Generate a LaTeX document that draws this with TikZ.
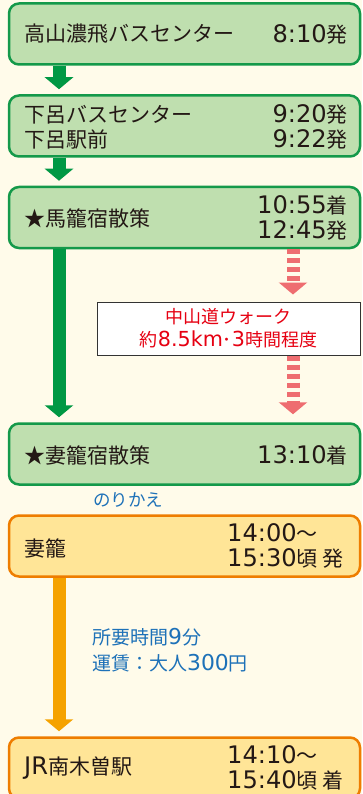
\documentclass[tikz,border=0pt]{standalone}
\usepackage{fontspec}
\newfontfamily\jpfont{Noto Sans CJK JP}
\newfontfamily\numfont{DejaVu Sans}[Scale=1.15]
\newcommand\dgt[1]{{\numfont #1}}
\usetikzlibrary{arrows.meta}
\definecolor{bgcream}{HTML}{FFFBEA}
\definecolor{boxgreen}{HTML}{BFDFAF}
\definecolor{linegreen}{HTML}{14994A}
\definecolor{arrowgreen}{HTML}{009844}
\definecolor{boxorange}{HTML}{FFE597}
\definecolor{lineorange}{HTML}{EE7D00}
\definecolor{arroworange}{HTML}{F5A200}
\definecolor{dashred}{HTML}{EE6D70}
\definecolor{textred}{HTML}{E60012}
\definecolor{textblue}{HTML}{1D71B8}
\definecolor{textdark}{HTML}{231815}

\begin{document}
\begin{tikzpicture}[x=1pt, y=-1pt,
    greenbox/.style={rectangle, rounded corners=10pt, draw=linegreen, line width=2.5pt, fill=boxgreen, minimum width=351pt, minimum height=61pt},
    orangebox/.style={greenbox, draw=lineorange, fill=boxorange},
    walkbox/.style={rectangle, draw=black!80, line width=1pt, fill=white, minimum width=263pt, minimum height=53pt, align=center, text=textred, font=\jpfont\fontsize{18}{23}\selectfont},
    txt/.style={inner sep=0pt, text=textdark, font=\jpfont\fontsize{21}{25}\selectfont},
    bluetxt/.style={inner sep=0pt, text=textblue, align=left, font=\jpfont\fontsize{19}{26}\selectfont},
    garrow/.style={draw=arrowgreen, line width=13pt, -{Triangle[width=28pt,length=12pt]}, shorten >=5pt},
    oarrow/.style={garrow, draw=arroworange},
    rarrow/.style={draw=dashred, line width=13pt, dash pattern=on 5pt off 4pt, -{Triangle[width=28pt,length=12pt]}},
    ]
    \useasboundingbox (0,0) rectangle (362,794);
    \fill[bgcream] (0,0) rectangle (362,794);

    \coordinate (gx) at (59,0);
    \coordinate (rx) at (293,0);

    \node [greenbox] (b1) at (184.5,34) {};
    \node [txt, anchor=west] (t1) at (24,34) {高山濃飛バスセンター};
    \node [txt, anchor=east] (h1) at (348,34) {\dgt{8:10}発};

    \node [greenbox] (b2) at (184.5,126) {};
    \node [txt, anchor=west, align=left] (t2) at (24,127) {下呂バスセンター\\下呂駅前};
    \node [txt, anchor=east, align=right] (h2) at (348,127) {\dgt{9:20}発\\\dgt{9:22}発};

    \node [greenbox] (b3) at (184.5,217.5) {};
    \node [txt, anchor=west] (t3) at (24,218) {★馬籠宿散策};
    \node [txt, anchor=east, align=right] (h3) at (348,218) {\dgt{10:55}着\\\dgt{12:45}発};

    \node [walkbox] (w) at (228.5,328.5) {中山道ウォーク\\約\dgt{8.5km}･\dgt{3}時間程度};

    \node [greenbox] (b4) at (184.5,454) {};
    \node [txt, anchor=west] (t4) at (24,455) {★妻籠宿散策};
    \node [txt, anchor=east] (h4) at (348,455) {\dgt{13:10}着};

    \node [bluetxt, anchor=west, font=\jpfont\fontsize{17.5}{26}\selectfont] (n1) at (93,500) {のりかえ};

    \node [orangebox] (b5) at (184.5,546) {};
    \node [txt, anchor=west] (t5) at (24,548) {妻籠};
    \node [txt, anchor=west, align=left] (h5) at (227,546) {\dgt{14:00}～\\\dgt{15:30}頃 発};

    \node [bluetxt, anchor=west] (n2) at (92,650) {所要時間\dgt{9}分\\運賃：大人\dgt{300}円};

    \node [orangebox] (b6) at (184.5,768) {};
    \node [txt, anchor=west] (t6) at (24,768) {\dgt{JR}南木曽駅};
    \node [txt, anchor=west, align=left] (h6) at (227,768) {\dgt{14:10}～\\\dgt{15:40}頃 着};

    \draw [garrow] (gx |- b1.south) -- (gx |- b2.north);
    \draw [garrow] (gx |- b2.south) -- (gx |- b3.north);
    \draw [garrow] (gx |- b3.south) -- (gx |- b4.north);
    \draw [rarrow, shorten >=7pt] (rx |- b3.south) -- (rx |- w.north);
    \draw [rarrow, shorten >=8pt] (rx |- w.south) -- (rx |- b4.north);
    \draw [oarrow] (gx |- b5.south) -- (gx |- b6.north);
\end{tikzpicture}
\end{document}
